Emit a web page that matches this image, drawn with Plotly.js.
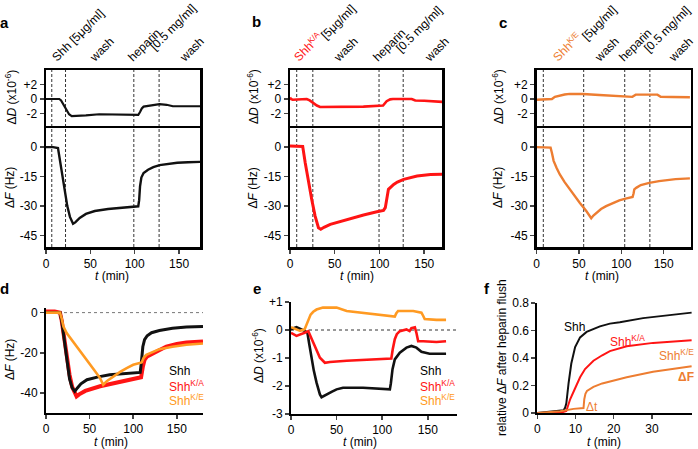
<!DOCTYPE html>
<html><head><meta charset="utf-8">
<script src="https://cdn.plot.ly/plotly-3.0.1.min.js"></script>
<style>html,body{margin:0;padding:0;background:#fff}
#chart{position:absolute;left:0;top:0;width:698px;height:449px}
#labels{position:absolute;left:0;top:0;width:698px;height:449px;pointer-events:none;overflow:visible}</style>
</head><body><div id="chart"></div>
<svg id="labels" xmlns="http://www.w3.org/2000/svg" width="698" height="449"></svg>
<script>
// ---------- DATA ----------
// Panel a (Shh)
const aT_D = [0, 8, 15, 17, 20, 23, 26, 29, 35, 45, 60, 80, 100, 104, 106, 108, 110, 115, 122, 128, 136, 143, 155, 174];
const aD   = [0, 0, 0, -0.2, -0.9, -1.6, -2.1, -2.35, -2.35, -2.25, -2.1, -2.1, -2.15, -2.2, -1.8, -1.3, -1.05, -0.95, -0.8, -0.7, -0.8, -1.0, -1.0, -1.0];
const aT_F = [0, 8, 13.5, 16, 19, 21.5, 24, 27, 29, 30.5, 33, 38, 45, 55, 70, 85, 100, 104, 105, 106, 107.5, 110, 115, 121, 128, 136, 148, 160, 174];
const aF   = [0, 0, -0.5, -8, -17, -24, -30, -35.5, -38, -39, -38.3, -36, -34, -32.5, -31.5, -30.8, -30.3, -30.1, -27, -20, -15.5, -13.2, -11.5, -10.2, -9.2, -8.6, -8, -7.7, -7.5];
const aEvents = [6.5, 22, 99, 127.5];
// Panel b (Shh K/A)
const bT_D = [0, 1, 3, 7.5, 14, 18.7, 22, 26, 30, 33.6, 45, 82, 104, 106, 108, 112, 115, 136, 140, 150, 157, 170];
const bD   = [0.2, 0, -0.1, -0.1, -0.05, 0.0, -0.2, -0.6, -0.9, -1.1, -1.1, -1.05, -0.9, -0.6, -0.3, -0.05, 0.0, 0.0, -0.2, -0.25, -0.3, -0.4];
const bT_F = [0, 14.2, 17, 20.5, 24.3, 28, 31.8, 34.4, 38, 45, 63.6, 82.2, 97.1, 104.5, 106.5, 108, 110, 115.9, 120, 127, 135, 142, 157, 170];
const bF   = [0.5, 0.3, -8, -18, -26.6, -35, -41, -41.8, -40.8, -39.3, -36.8, -34.5, -32.9, -32.2, -30.8, -26, -21.5, -19, -17.8, -16.4, -15.4, -14.7, -14.0, -13.8];
const bEvents = [7.5, 25.5, 99.5, 126.5];
// Panel c (Shh K/E)
const cT_D = [0, 15.6, 18, 21.5, 27.4, 33, 39, 54.6, 74, 101.5, 113, 115, 117, 142.6, 144.5, 146.5, 160, 181];
const cD   = [-0.1, -0.1, 0.0, 0.3, 0.5, 0.62, 0.7, 0.7, 0.55, 0.4, 0.3, 0.45, 0.6, 0.6, 0.45, 0.3, 0.27, 0.25];
const cT_F = [0, 16.4, 18, 20, 23.4, 27.3, 33, 39, 45, 50.8, 58.6, 64.4, 67, 70.3, 76, 82, 90, 97.6, 105, 113.3, 114.5, 115.3, 118, 123, 133, 144.5, 164, 181];
const cF   = [0, -0.3, -3, -7, -10.5, -13.9, -17.8, -21.5, -25, -28.3, -32.5, -36.2, -34.8, -33.4, -31.5, -30, -28.5, -27.1, -26.2, -25.4, -23.5, -21.5, -20.6, -19.3, -18.2, -17.3, -16.3, -15.9];
const cEvents = [7.8, 55.5, 104, 133.7];
// Panel d (ΔF overlay)
const dT_k = [0, 10, 16, 18, 21, 24, 27, 30, 33, 36, 40, 47, 60, 73, 90, 108, 109.5, 111, 113, 116, 121, 130, 145, 161, 180];
const dK   = [0, 0, 0, -4, -14, -25, -33, -37.5, -39.2, -37.5, -35.5, -33.4, -32, -31, -30.3, -29.8, -24, -17, -13.5, -11.5, -10, -8.9, -7.8, -7.2, -6.9];
const dT_r = [0, 10, 16, 18, 21, 24, 27, 30, 33, 35, 38, 45, 62, 80, 100, 109, 111, 113, 116, 123, 130, 138, 150, 161, 180];
const dR   = [0.5, 0.5, 0, -4, -13, -23, -31, -37, -40.5, -41.7, -40.7, -39, -36.7, -34.8, -32.9, -32.2, -27, -23.5, -21.8, -20.2, -18.5, -16.9, -15.6, -14.9, -14.4];
const dT_o = [0, 10, 16, 18, 20, 23.7, 30, 43, 55, 62, 65.6, 70, 77, 85, 92.5, 100, 109.7, 112, 115, 122, 130, 145, 161, 180];
const dO   = [0, 0, 0, -3, -7, -10.2, -14, -21.8, -28.5, -32.6, -35.9, -34, -31.8, -29.5, -27.6, -26, -24.8, -22.5, -21, -19.5, -18.2, -17, -16, -15.4];
// Panel e (ΔD overlay)
const eT_k = [0, 6, 15, 18, 20, 22.6, 25, 28, 31.7, 33.5, 36, 39, 45, 50, 57, 79, 101, 108.4, 109.5, 111.3, 113.8, 119.3, 126.6, 132, 137.5, 143, 152, 170];
const eK   = [0.03, 0.1, -0.03, -0.1, -0.5, -1.05, -1.45, -1.88, -2.3, -2.4, -2.35, -2.3, -2.2, -2.12, -2.06, -2.06, -2.1, -2.12, -1.9, -1.4, -1.05, -0.81, -0.63, -0.57, -0.63, -0.78, -0.85, -0.85];
const eT_r = [0, 6, 15, 19, 24.4, 28, 31.7, 37.2, 42.7, 61, 79, 97, 110, 111.5, 113.8, 116, 119.3, 126.6, 130, 132, 135.8, 137.5, 139.4, 145, 159.5, 170];
const eR   = [-0.1, -0.21, -0.1, -0.04, -0.45, -0.75, -0.99, -1.17, -1.14, -1.1, -1.07, -1.04, -1.02, -0.7, -0.33, -0.15, -0.04, 0.02, -0.04, 0.07, 0.1, -0.1, -0.4, -0.4, -0.43, -0.4];
const eT_o = [0, 10, 15, 17, 19, 21.5, 24.4, 28, 35, 50, 61, 79, 97, 113.8, 115.5, 117.4, 134, 143, 145, 146.6, 159.5, 170];
const eO   = [0.1, -0.03, 0.03, 0.2, 0.39, 0.55, 0.65, 0.73, 0.8, 0.8, 0.68, 0.62, 0.56, 0.48, 0.6, 0.68, 0.68, 0.62, 0.5, 0.39, 0.36, 0.36];
// Panel f (relative ΔF after heparin flush)
const fT_k = [0, 6.9, 7.3, 7.6, 8.2, 8.9, 9.9, 11.2, 12.9, 14.5, 16.4, 19, 21.6, 27.7, 33.9, 40.4];
const fK   = [0, 0.02, 0.04, 0.07, 0.22, 0.36, 0.48, 0.55, 0.59, 0.61, 0.63, 0.65, 0.66, 0.69, 0.71, 0.73];
const fT_r = [0, 6, 7.6, 8.6, 9.9, 11.2, 12.5, 14.7, 17, 19, 23.4, 30.3, 40.4];
const fR   = [0, 0.0, 0.015, 0.1, 0.18, 0.26, 0.32, 0.38, 0.42, 0.45, 0.485, 0.51, 0.53];
const fT_o = [0, 6, 9.5, 12.1, 12.3, 12.6, 13, 14, 14.7, 17, 19, 23.4, 30.3, 40.4];
const fO   = [0, 0.012, 0.03, 0.036, 0.1, 0.14, 0.16, 0.18, 0.19, 0.215, 0.23, 0.26, 0.3, 0.34];

// tick labels
const tTicks = [0, 50, 100, 150];
const dTickVals = [2, 0, -2], dTickText = ['+2', '0', '-2'];
const fTickVals = [0, -15, -30, -45], fTickText = ['0', '-15', '-30', '-45'];
const dPanelTicks = [0, -20, -40], dPanelText = ['0', '-20', '-40'];
const ePanelTicks = [1, 0, -1, -2, -3], ePanelText = ['+1', '0', '-1', '-2', '-3'];
const fPanelTicks = [0, 0.2, 0.4, 0.6, 0.8], fPanelText = ['0', '0.2', '0.4', '0.6', '0.8'];
const fXTicks = [0, 10, 20, 30];

// ---------- LAYOUT ----------
const W = 698, H = 449;
const px = v => v / W, py = v => 1 - v / H;
const BLACK = '#111111', RED = '#ff1414', ORANGE = '#ed7d31', ORANGE2 = '#ff9a22';
const FONT = 'Liberation Sans, Arial, sans-serif';

function tr(x, y, xa, ya, color, width) {
  return {x, y, xaxis: xa, yaxis: ya, type: 'scatter', mode: 'lines',
    line: {color, width}, hoverinfo: 'skip', showlegend: false};
}
const data = [
  tr(aT_D, aD, 'x', 'y', BLACK, 2.2), tr(aT_F, aF, 'x2', 'y2', BLACK, 2.4),
  tr(bT_D, bD, 'x3', 'y3', RED, 2.6), tr(bT_F, bF, 'x4', 'y4', RED, 3),
  tr(cT_D, cD, 'x5', 'y5', ORANGE, 2.4), tr(cT_F, cF, 'x6', 'y6', ORANGE, 2.4),
  tr(dT_r, dR, 'x7', 'y7', RED, 4), tr(dT_k, dK, 'x7', 'y7', BLACK, 3), tr(dT_o, dO, 'x7', 'y7', ORANGE2, 2.6),
  tr(eT_k, eK, 'x8', 'y8', BLACK, 2.6), tr(eT_r, eR, 'x8', 'y8', RED, 2.6), tr(eT_o, eO, 'x8', 'y8', ORANGE2, 2.6),
  tr(fT_k, fK, 'x9', 'y9', BLACK, 2), tr(fT_r, fR, 'x9', 'y9', RED, 2), tr(fT_o, fO, 'x9', 'y9', ORANGE, 2)
];

const tickf = {family: FONT, size: 12, color: '#000'};
function topX(dom, range, anchor) {
  return {domain: dom, range, anchor, side: 'top', showline: true, mirror: false, linewidth: 2.5, linecolor: '#000',
    showgrid: false, zeroline: false, ticks: '', showticklabels: false, fixedrange: true};
}
function boxX(dom, range, anchor) {
  return {domain: dom, range, anchor, showline: true, mirror: true, linewidth: 2.5, linecolor: '#000',
    showgrid: false, zeroline: false, ticks: 'outside', ticklen: 4, tickwidth: 1.5,
    tickvals: tTicks, tickfont: tickf, fixedrange: true};
}
function boxY(dom, range, anchor, vals, text) {
  return {domain: dom, range, anchor, showline: true, mirror: true, linewidth: 2.5, linecolor: '#000',
    showgrid: false, zeroline: false, ticks: 'outside', ticklen: 4, tickwidth: 1.5,
    tickvals: vals, ticktext: text, tickfont: tickf, fixedrange: true};
}
function openAx(dom, range, anchor, vals, text) {
  return {domain: dom, range, anchor, showline: true, mirror: false, linewidth: 2, linecolor: '#000',
    showgrid: false, zeroline: false, ticks: 'outside', ticklen: 4, tickwidth: 1.5,
    tickvals: vals, ticktext: text, tickfont: tickf, fixedrange: true};
}
const topDom = [py(128), py(70)], botDom = [py(247), py(128)];
const aDom = [px(46), px(200)], bDom = [px(290), px(442.3)], cDom = [px(536.7), px(690.5)];
const Drange = [-4, 4], Frange = [-50.8, 9.7];

const layout = {
  width: W, height: H, margin: {l: 0, r: 0, t: 0, b: 0},
  paper_bgcolor: '#fff', plot_bgcolor: 'rgba(0,0,0,0)', showlegend: false,
  font: {family: FONT, size: 12, color: '#000'},
  xaxis: topX(aDom, [0, 173.6], 'y'), yaxis: boxY(topDom, Drange, 'x', dTickVals, dTickText),
  xaxis2: boxX(aDom, [0, 173.6], 'y2'), yaxis2: boxY(botDom, Frange, 'x2', fTickVals, fTickText),
  xaxis3: topX(bDom, [0, 170.2], 'y3'), yaxis3: boxY(topDom, Drange, 'x3', dTickVals, dTickText),
  xaxis4: boxX(bDom, [0, 170.2], 'y4'), yaxis4: boxY(botDom, Frange, 'x4', fTickVals, fTickText),
  xaxis5: topX(cDom, [0, 181.7], 'y5'), yaxis5: boxY(topDom, Drange, 'x5', dTickVals, dTickText),
  xaxis6: boxX(cDom, [0, 181.7], 'y6'), yaxis6: boxY(botDom, Frange, 'x6', fTickVals, fTickText),
  xaxis7: openAx([px(46), px(203)], [0, 180], 'y7', tTicks, tTicks.map(String)),
  yaxis7: openAx([py(413), py(308)], [-50, 2.3], 'x7', dPanelTicks, dPanelText),
  xaxis8: openAx([px(291), px(457)], [0, 182], 'y8', tTicks, tTicks.map(String)),
  yaxis8: openAx([py(414), py(302)], [-3, 1], 'x8', ePanelTicks, ePanelText),
  xaxis9: openAx([px(537.3), px(692)], [0, 40.5], 'y9', fXTicks, fXTicks.map(String)),
  yaxis9: openAx([py(413), py(303)], [0, 0.8], 'x9', fPanelTicks, fPanelText),
  shapes: [], annotations: []
};

[[aEvents, 'x2'], [bEvents, 'x4'], [cEvents, 'x6']].forEach(([ev, xa]) => {
  ev.forEach(t => layout.shapes.push({type: 'line', xref: xa, yref: 'paper', x0: t, x1: t,
    y0: py(247), y1: py(70), line: {color: '#333', width: 1, dash: '3px,2px'}, layer: 'below'}));
});
layout.shapes.push({type: 'line', xref: 'x7 domain', yref: 'y7', x0: 0, x1: 1, y0: 0, y1: 0,
  line: {color: '#777', width: 1, dash: 'dot'}, layer: 'below'});
layout.shapes.push({type: 'line', xref: 'x8 domain', yref: 'y8', x0: 0, x1: 1, y0: 0, y1: 0,
  line: {color: '#333', width: 1, dash: 'dot'}, layer: 'below'});

function ann(text, x, y, opts) {
  layout.annotations.push(Object.assign({text, xref: 'paper', yref: 'paper', x: px(x), y: py(y),
    xanchor: 'center', yanchor: 'middle', showarrow: false, font: {family: FONT, size: 12, color: '#000'}}, opts || {}));
}
[['a', 4, 22], ['b', 256, 21], ['c', 503, 22], ['d', 4, 288], ['e', 257, 288], ['f', 487, 288]]
  .forEach(([t, x, y]) => ann('<b>' + t + '</b>', x, y, {font: {family: FONT, size: 15, color: '#000'}}));

const vt = {textangle: -90};
const dTitle = 'Δ<i>D</i> (x10<sup>-6</sup>)', fTitle = 'Δ<i>F</i> (Hz)', tTitle = '<i>t</i> (min)';
ann(dTitle, 10.5, 97, vt); ann(fTitle, 10, 188, vt);
ann(dTitle, 253, 97, vt); ann(fTitle, 252.5, 188, vt);
ann(dTitle, 498, 97, vt); ann(fTitle, 498, 188, vt);
ann(tTitle, 112, 276); ann(tTitle, 357, 276); ann(tTitle, 602, 276);
ann(fTitle, 10, 360, vt); ann(dTitle, 258, 356, vt);
ann('relative Δ<i>F</i> after heparin flush', 502, 358, vt);
ann(tTitle, 111, 442); ann(tTitle, 360, 442); ann(tTitle, 603.5, 442);

const L = {xanchor: 'left'};
ann('Shh', 167, 371, L);
ann('Shh<sup>K/A</sup>', 167, 386, {xanchor: 'left', font: {family: FONT, size: 12, color: RED}});
ann('Shh<sup>K/E</sup>', 167, 400, {xanchor: 'left', font: {family: FONT, size: 12, color: ORANGE2}});
ann('Shh', 418, 371, L);
ann('Shh<sup>K/A</sup>', 418, 386, {xanchor: 'left', font: {family: FONT, size: 12, color: RED}});
ann('Shh<sup>K/E</sup>', 418, 400, {xanchor: 'left', font: {family: FONT, size: 12, color: ORANGE2}});
ann('Shh', 574, 327);
ann('Shh<sup>K/A</sup>', 627, 341, {font: {family: FONT, size: 12, color: RED}});
ann('Shh<sup>K/E</sup>', 676, 355, {font: {family: FONT, size: 12, color: ORANGE}});
ann('<b>ΔF</b>', 686, 377, {font: {family: FONT, size: 12, color: ORANGE}});
ann('Δt', 592, 407, {font: {family: FONT, size: 12, color: ORANGE}});

Plotly.newPlot('chart', data, layout, {staticPlot: true, displayModeBar: false});

// ---------- rotated event labels (text baselines start at the given point, 45° up) ----------
const eventLabels = [
  ['Shh [5μg/ml]', 57, 62, 12, '#000'], ['wash', 95, 62, 12, '#000'], ['heparin', 133, 62, 12, '#000'],
  ['[0.5 mg/ml]', 155, 51, 12, '#000'], ['wash', 185, 62, 12, '#000'],
  ['Shh', 299, 62, 12, RED], ['K/A', 311, 44, 8, RED], ['[5μg/ml]', 326, 40, 12, '#000'],
  ['wash', 339, 62, 12, '#000'], ['heparin', 378, 62, 12, '#000'], ['[0.5 mg/ml]', 401, 53, 12, '#000'], ['wash', 430, 62, 12, '#000'],
  ['Shh', 558, 62, 12, ORANGE], ['K/E', 570, 44, 8, ORANGE], ['[5μg/ml]', 587, 41, 12, '#000'],
  ['wash', 600, 62, 12, '#000'], ['heparin', 624, 62, 12, '#000'], ['[0.5 mg/ml]', 649, 53, 12, '#000'], ['wash', 674, 62, 12, '#000']
];
const svg = document.getElementById('labels');
eventLabels.forEach(([t, x, y, s, c]) => {
  const el = document.createElementNS('http://www.w3.org/2000/svg', 'text');
  el.setAttribute('x', x); el.setAttribute('y', y);
  el.setAttribute('transform', 'rotate(-45 ' + x + ' ' + y + ')');
  el.setAttribute('font-family', FONT); el.setAttribute('font-size', s); el.setAttribute('fill', c);
  el.textContent = t;
  svg.appendChild(el);
});
</script></body></html>
